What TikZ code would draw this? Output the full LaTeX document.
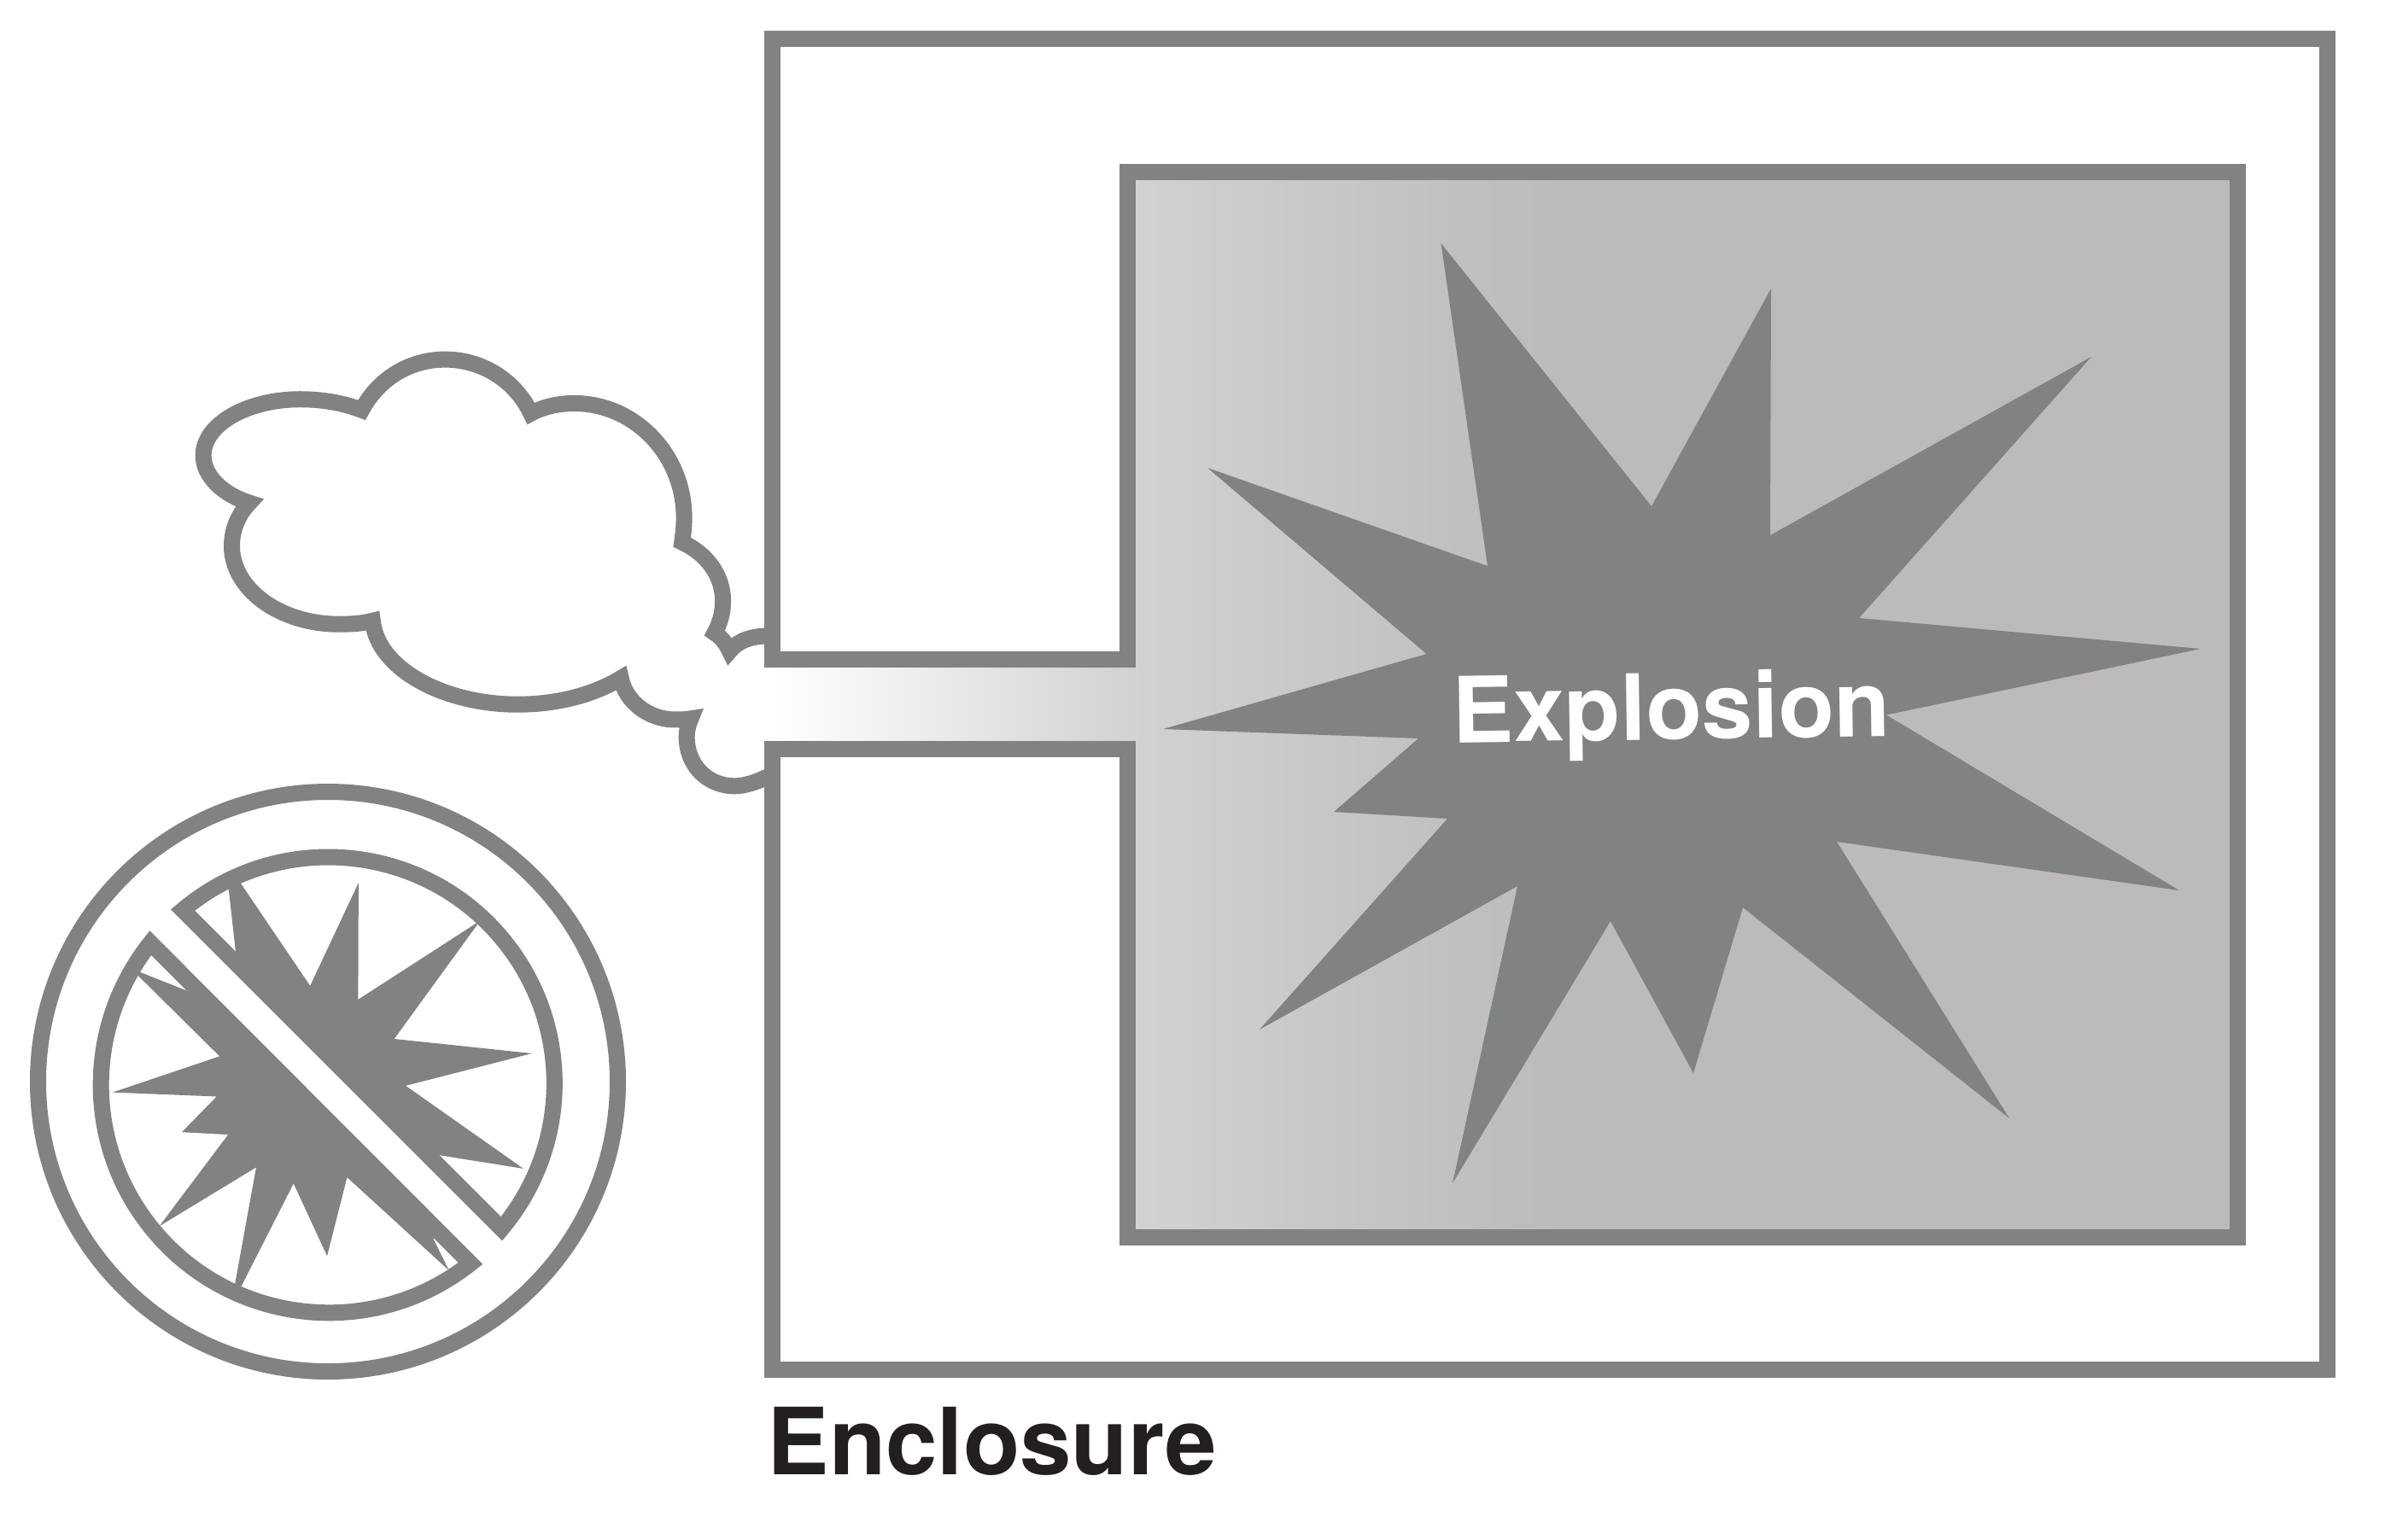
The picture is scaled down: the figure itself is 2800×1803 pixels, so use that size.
\documentclass[tikz,border=0pt]{standalone}
\usepackage{fontspec}
\setmainfont{TeX Gyre Heros}
\definecolor{linegrey}{HTML}{808284}
\definecolor{roomlight}{HTML}{D1D2D4}
\definecolor{roomdark}{HTML}{BCBABA}
\definecolor{labelink}{HTML}{231F20}
\pgfdeclarehorizontalshading{roomgrad}{100bp}{color(0bp)=(white);color(25bp)=(white);color(37.2bp)=(roomlight);color(52bp)=(roomdark);color(100bp)=(roomdark)}
\tikzset{
  outline/.style={draw=linegrey,line width=4.75pt,miter limit=30,line join=miter},
  blast/.style={fill=linegrey,draw=none},
  cloudscope/.style={shift={(0,350)},xscale=0.606,yscale=0.395},
  badgescope/.style={shift={(0,900)},xscale=0.4975,yscale=0.4854}
}
\begin{document}
\begin{tikzpicture}[x=0.25pt,y=-0.25pt]
\useasboundingbox (0,0) rectangle (2800,1803);
\fill[white] (0,0) rectangle (2800,1803);
% cloud
\begin{scope}[cloudscope]
\draw[outline] (1490,1412) .. controls (1465,1432) and (1440,1445) .. (1420,1445)
 .. controls (1365,1445) and (1327,1380) .. (1327,1300)
 .. controls (1327,1280) and (1330,1262) .. (1335,1245)
 .. controls (1325,1248) and (1315,1248) .. (1305,1248)
 .. controls (1250,1248) and (1208,1190) .. (1200,1125)
 .. controls (1150,1172) and (1080,1203) .. (1000,1203)
 .. controls (860,1203) and (730,1100) .. (720,955)
 .. controls (700,963) and (680,965) .. (655,965)
 .. controls (540,965) and (448,860) .. (448,733)
 .. controls (448,685) and (460,640) .. (482,605)
 .. controls (430,580) and (393,525) .. (393,465)
 .. controls (393,370) and (480,298) .. (580,298)
 .. controls (625,298) and (665,310) .. (699,330)
 .. controls (730,240) and (790,180) .. (860,180)
 .. controls (930,180) and (995,240) .. (1026,340)
 .. controls (1050,320) and (1080,310) .. (1110,310)
 .. controls (1225,310) and (1322,460) .. (1322,650)
 .. controls (1322,675) and (1320,700) .. (1318,722)
 .. controls (1365,755) and (1397,820) .. (1397,895)
 .. controls (1397,930) and (1392,960) .. (1381,991)
 .. controls (1395,1005) and (1403,1022) .. (1410,1045)
 .. controls (1425,1015) and (1450,1000) .. (1490,999);
\end{scope}
% room and neck fill
\shade[shading=roomgrad] (904,772) -- (1320,772) -- (1320,201) -- (2620,201) -- (2620,1449) -- (1320,1449) -- (1320,877) -- (904,877) -- cycle;
% enclosure frame
\draw[outline] (904,772) -- (904,45) -- (2725,45) -- (2725,1604) -- (904,1604) -- (904,877) -- (1320,877) -- (1320,1449) -- (2620,1449) -- (2620,201) -- (1320,201) -- (1320,772) -- cycle;
% big explosion
\fill[blast] (1687.5,285) -- (1934,593) -- (2074,338) -- (2073,627) -- (2449,418) -- (2177,724) -- (2577,760) -- (2209,837.5) -- (2552,1043) -- (2151,986) -- (2353,1310) -- (2041,1063) -- (1983,1257) -- (1886,1079) -- (1701,1386) -- (1777,1038) -- (1475,1206) -- (1695,959) -- (1562,951) -- (1661,865) -- (1362,854) -- (1670.5,766) -- (1414,548) -- (1742,663) -- cycle;
\node[anchor=base west,inner sep=0pt,rotate=0.85,text=white,font=\bfseries\fontsize{26.8pt}{30pt}\selectfont] (explosion) at (1701,870) {Explosion};
\node[anchor=base west,inner sep=0pt,text=labelink,font=\bfseries\fontsize{27.15pt}{30pt}\selectfont] (enclosure) at (898,1727) {Enclosure};
% prohibition badge
\draw[outline] (384,1267) circle [radius=339.5];
\begin{scope}[badgescope]
\fill[blast] (538,290) -- (555,445) -- (545,455) -- (1020,943) -- (1030,933) -- (1232,966) -- (955,766) -- (1252,688) -- (928,653) -- (1130,368) -- (843,558) -- (844,276) -- (730,525) -- (565,275) -- cycle;
\fill[blast] (443,538) -- (325,490) -- (320,495) -- (517,695) -- (265,782) -- (510,792) -- (428,878) -- (537,884) -- (375,1105) -- (603,963) -- (553,1245) -- (568,1250) -- (691,1002) -- (770,1177) -- (817,987) -- (1057,1212) -- (1020,1135) -- (1035,1125) -- (455,528) -- cycle;
\end{scope}
\draw[outline] (214,1066) arc[start angle=-130,end angle=40,radius=265] -- cycle;
\draw[outline] (551,1480) arc[start angle=51.6,end angle=218.5,radius=267] -- cycle;
\end{tikzpicture}
\end{document}
